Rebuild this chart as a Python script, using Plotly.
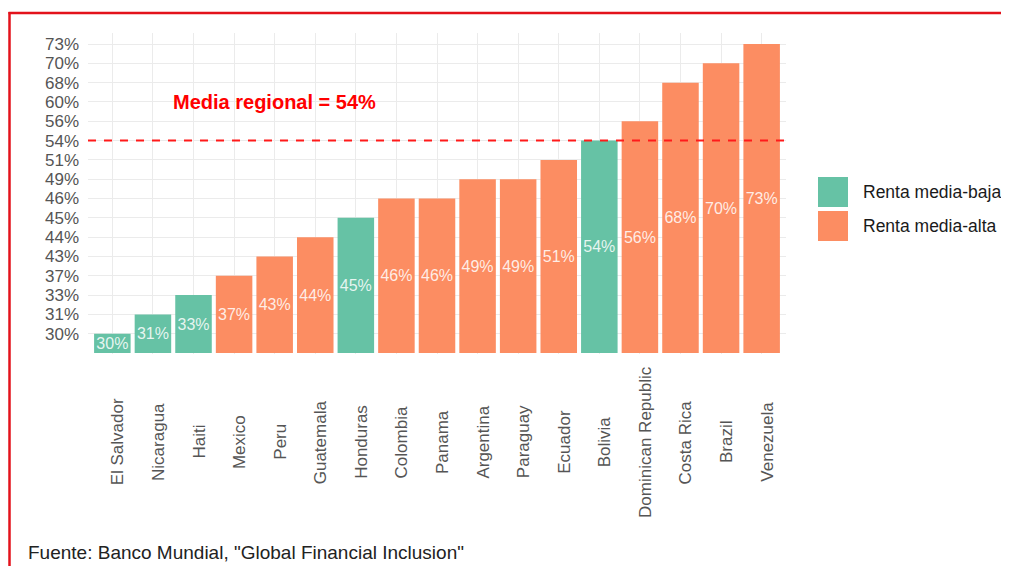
import plotly.graph_objects as go

# ---------------- data ----------------
countries = ["El Salvador", "Nicaragua", "Haiti", "Mexico", "Peru", "Guatemala",
             "Honduras", "Colombia", "Panama", "Argentina", "Paraguay", "Ecuador",
             "Bolivia", "Dominican Republic", "Costa Rica", "Brazil", "Venezuela"]
values = [30, 31, 33, 37, 43, 44, 45, 46, 46, 49, 49, 51, 54, 56, 68, 70, 73]
income = ["baja", "baja", "baja", "alta", "alta", "alta", "baja", "alta", "alta",
          "alta", "alta", "alta", "baja", "alta", "alta", "alta", "alta"]
y_tick_labels = ["30%", "31%", "33%", "37%", "43%", "44%", "45%", "46%", "49%",
                 "51%", "54%", "56%", "60%", "68%", "70%", "73%"]
group_names = {"baja": "Renta media-baja", "alta": "Renta media-alta"}
group_colors = {"baja": "#66C2A5", "alta": "#FC8D62"}
regional_mean_label = "54%"
mean_text = "Media regional = 54%"
mean_text_level = "60%"
mean_text_country = "Peru"
source_text = 'Fuente: Banco Mundial, "Global Financial Inclusion"'

# ---------------- geometry (page pixels; the page body adds an 8px margin) ----------------
OFF = 8
PAGE_W, PAGE_H = 1009, 566
W, H = PAGE_W - OFF, PAGE_H - OFF
L, R, T, B = 88 - OFF, 786 - OFF, 33 - OFF, 354 - OFF
pw, ph = R - L, B - T


def px_x(x):
    return (x - OFF - L) / pw


def px_y(y):
    return (B - (y - OFF)) / ph


FONT = "Liberation Sans, Arial, sans-serif"

# discrete y positions (ordinal scale of labels)
ypos = {lab: i + 1 for i, lab in enumerate(y_tick_labels)}

fig = go.Figure()
for g in ["baja", "alta"]:
    xs = [c for c, gg in zip(countries, income) if gg == g]
    vs = [v for v, gg in zip(values, income) if gg == g]
    fig.add_trace(go.Bar(
        x=xs,
        y=[ypos[f"{v}%"] for v in vs],
        text=[f"{v}%" for v in vs],
        name=group_names[g],
        marker=dict(color=group_colors[g], line=dict(width=0)),
        width=0.9,
        textposition="inside",
        insidetextanchor="middle",
        textangle=0,
        constraintext="none",
        textfont=dict(family=FONT, size=16, color="rgba(255,255,255,0.85)"),
        showlegend=False,
        hovertemplate="%{x}: %{text}<extra></extra>",
    ))

# regional mean dashed line
fig.add_shape(type="line", xref="paper", x0=0, x1=1, yref="y",
              y0=ypos[regional_mean_label], y1=ypos[regional_mean_label],
              line=dict(color="#FF1A1A", width=2, dash="8px,8px"))

annotations = []
annotations.append(dict(
    x=mean_text_country, y=ypos[mean_text_level], xref="x", yref="y",
    text=f"<b>{mean_text}</b>", showarrow=False,
    font=dict(family=FONT, size=20, color="#FF0000"),
    xanchor="center", yanchor="middle"))

# rotated country labels centred below the axis
for c in countries:
    annotations.append(dict(
        x=c, y=px_y(442), xref="x", yref="paper", text=c, showarrow=False,
        textangle=-90, font=dict(family=FONT, size=17, color="#555555"),
        xanchor="center", yanchor="middle", xshift=5))

# manual legend (large keys as in the reference)
legend_rows = [("baja", 177), ("alta", 211)]
for g, top in legend_rows:
    fig.add_shape(type="rect", xref="paper", yref="paper",
                  x0=px_x(818), x1=px_x(848), y0=px_y(top + 30), y1=px_y(top),
                  fillcolor=group_colors[g], line=dict(width=0))
    annotations.append(dict(
        x=px_x(861), y=px_y(top + 15), xref="paper", yref="paper",
        text=group_names[g], showarrow=False, xanchor="left", yanchor="middle",
        font=dict(family=FONT, size=17.5, color="#1a1a1a")))

# source caption
annotations.append(dict(
    x=px_x(26), y=px_y(552), xref="paper", yref="paper", text=source_text,
    showarrow=False, xanchor="left", yanchor="middle",
    font=dict(family=FONT, size=19, color="#222222")))

# red page frame (top and left)
fig.add_shape(type="line", xref="paper", yref="paper",
              x0=px_x(8.5), x1=px_x(PAGE_W + 4), y0=px_y(13), y1=px_y(13),
              line=dict(color="#E3121B", width=2.5))
fig.add_shape(type="line", xref="paper", yref="paper",
              x0=px_x(9.5), x1=px_x(9.5), y0=px_y(12), y1=px_y(PAGE_H + 4),
              line=dict(color="#E3121B", width=2.5))

fig.update_layout(
    width=W, height=H,
    margin=dict(l=L, r=W - R, t=T, b=H - B, pad=0),
    paper_bgcolor="white", plot_bgcolor="white",
    barmode="overlay",
    bargap=0.1,
    annotations=annotations,
    showlegend=False,
    font=dict(family=FONT),
)
fig.update_xaxes(
    type="category", categoryorder="array", categoryarray=countries,
    range=[-0.6, len(countries) - 0.4],
    showgrid=True, gridcolor="#EBEBEB", gridwidth=1.2,
    showticklabels=False, ticks="", zeroline=False, showline=False,
)
fig.update_yaxes(
    range=[-0.05, len(y_tick_labels) + 0.57],
    tickmode="array", tickvals=[ypos[l] for l in y_tick_labels], ticktext=y_tick_labels,
    showgrid=True, gridcolor="#EBEBEB", gridwidth=1.2,
    ticks="", ticklabelstandoff=8, zeroline=False, showline=False,
    tickfont=dict(family=FONT, size=17, color="#555555"),
)

fig.write_html("out.html")
